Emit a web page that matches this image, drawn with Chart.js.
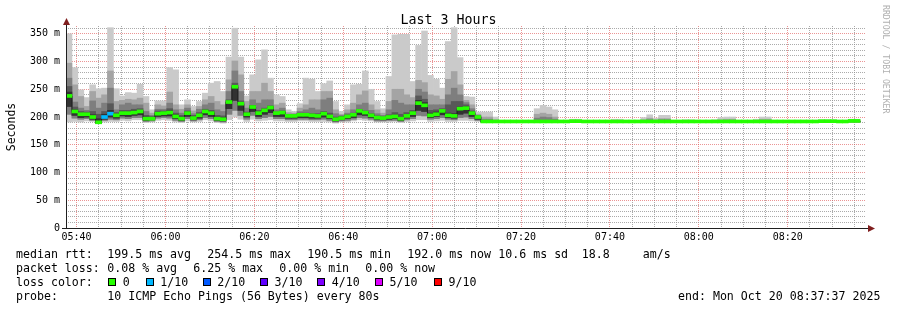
<!DOCTYPE html>
<html><head><meta charset="utf-8">
<script src="https://cdn.jsdelivr.net/npm/chart.js@4/dist/chart.umd.min.js"></script>
<style>
html,body{margin:0;padding:0;background:#fff;}
#wrap{position:relative;width:897px;height:310px;overflow:hidden;background:#fff;}
#c{position:absolute;left:0;top:0;}
.t{position:absolute;font-family:'DejaVu Sans Mono',monospace;white-space:pre;color:#000;}
#title{left:0;width:897px;text-align:center;top:12px;font-size:13.3px;line-height:16px;}
#rrd{left:881px;top:5px;font-size:8.2px;line-height:10px;color:#b0b0b0;writing-mode:vertical-rl;}
.lg{font-size:11.6px;line-height:14px;}
.box{position:absolute;width:8px;height:8px;box-sizing:border-box;border:1px solid #000;}
</style></head>
<body>
<div id="wrap">
<canvas id="c" width="897" height="310"></canvas>
<div id="title" class="t">Last 3 Hours</div>
<div id="rrd" class="t">RRDTOOL / TOBI OETIKER</div>
<div id="legend"></div>
</div>
<script>
// ---- data ----
const startClock = '05:37:37';
const stepSeconds = 80;
const spanMinutes = 180;

const maxRtt = [
350,289,249,235,258,251,252,361,251,238,
244,243,259,237,213,229,229,289,285,222,
231,219,228,243,261,264,246,308,360,308,
238,276,303,321,270,240,237,213,210,224,
270,268,246,260,265,228,210,222,258,259,
283,250,228,215,273,348,349,349,264,329,
355,275,268,252,336,361,307,237,236,209,
209,209,200,193,193,193,193,193,193,215,
221,218,213,193,193,196,196,193,193,193,
193,193,196,196,193,193,193,199,204,198,
203,203,193,193,195,195,193,193,193,195,
199,200,200,193,193,193,196,200,200,193,
193,193,193,193,193,193,193,195,195,195,
193,193,196,196];
const p9 = [
297,258,237,219,246,234,240,283,228,230,
232,231,234,225,207,222,220,245,222,214,
222,211,219,231,237,228,222,267,301,276,
228,246,246,261,246,222,225,208,207,216,
222,231,231,246,246,213,205,213,225,240,
247,222,213,207,228,250,250,240,235,266,
262,240,238,232,268,282,258,230,222,205,
200,200,195,193,193,193,193,193,193,205,
207,205,200,193,193,193,193,193,193,193,
193,193,193,193,193,193,193,195,198,195,
197,197,193,193,193,193,193,193,193,193,
195,196,196,193,193,193,193,196,196,193,
193,193,193,193,193,193,193,193,193,193,
193,193,193,193];
const p8 = [
270,227,216,212,229,216,225,252,213,222,
225,222,222,210,203,214,214,225,213,207,
216,206,214,222,225,213,210,246,283,246,
216,231,225,231,231,213,216,205,205,210,
213,216,213,231,234,206,203,207,213,222,
225,212,206,203,213,230,225,222,222,250,
245,222,222,222,240,252,240,226,215,203,
196,196,193,192.5,192.5,192.5,192.5,192.5,192.5,198,
200,199,196,192.5,192.5,192.5,192.5,192.5,192.5,192.5,
192.5,192.5,192.5,192.5,192.5,192.5,192.5,192.5,195,192.5,
195,195,192.5,192.5,192.5,192.5,192.5,192.5,192.5,192.5,
192.5,192.5,192.5,192.5,192.5,192.5,192.5,192.5,192.5,192.5,
192.5,192.5,192.5,192.5,192.5,192.5,192.5,192.5,192.5,192.5,
192.5,192.5,192.5,192.5];
const p7 = [
255,218,210,209,210,205,210,224,208,212,
212,214,215,203,201,211,211,215,207,203,
211,203,208,214,212,203,202,231,261,229,
209,221,212,216,220,209,211,204,204,207,
207,206,206,210,207,200,201,204,207,214,
211,206,202,200,204,208,205,208,212,238,
232,212,213,215,222,228,228,222,211,202,
192.5,192.5,192.5,192.5,192.5,192.5,192.5,192.5,192.5,192.5,
192.5,192.5,192.5,192.5,192.5,192.5,192.5,192.5,192.5,192.5,
192.5,192.5,192.5,192.5,192.5,192.5,192.5,192.5,192.5,192.5,
192.5,192.5,192.5,192.5,192.5,192.5,192.5,192.5,192.5,192.5,
192.5,192.5,192.5,192.5,192.5,192.5,192.5,192.5,192.5,192.5,
192.5,192.5,192.5,192.5,192.5,192.5,192.5,192.5,192.5,192.5,
192.5,192.5,192.5,192.5];
const p6 = [
245,213,207,207,204,197,205,212,205,209,
209,211,212,200,199,208,209,211,204,200,
209,200,205,212,209,200,199,229,257,226,
207,220,209,214,219,208,209,203,203,206,
206,205,204,208,203,198,200,203,206,212,
209,204,200,199,202,203,199,204,209,230,
226,207,209,213,207,206,218,219,209,201,
192.5,192.5,192.5,192.5,192.5,192.5,192.5,192.5,192.5,192.5,
192.5,192.5,192.5,192.5,192.5,192.5,192.5,192.5,192.5,192.5,
192.5,192.5,192.5,192.5,192.5,192.5,192.5,192.5,192.5,192.5,
192.5,192.5,192.5,192.5,192.5,192.5,192.5,192.5,192.5,192.5,
192.5,192.5,192.5,192.5,192.5,192.5,192.5,192.5,192.5,192.5,
192.5,192.5,192.5,192.5,192.5,192.5,192.5,192.5,192.5,192.5,
192.5,192.5,192.5,192.5];
const median = [
238,210,205,205,200,190.5,200,206,203,207,
207,208,210,197,197,206,207,208,201,197,
207,198,203,210,207,197,196,227,254.5,224,
205,218,207,212,217,207,208,202,202,204,
204,203,202,206,201,196,198,201,204,211,
208,203,199,198,200,201,197,202,207,225,
221,203,205,211,203,202,215,216,207,200,
192,192,192,192,192,192,192,192,192,192,
192,192,192,192,192,192.5,192.5,192,192,192,
192,192,192,192,192,192,192,192,192,192,
192,192,192,192,192,192,192,192,192,192,
192,192,192,192,192,192,192,192,192,192,
192,192,192,192,192,192,192,192.5,192.5,192.5,
192,192,193,193];
const p4 = [
219,203,199,200,196,189,196,200,198,202,
201,203,204,194,195,201,202,202,197,194,
201,195,198,204,201,194,193,215,230,212,
200,210,201,205,208,201,201,198,198,199,
199,198,198,200,197,193,195,197,199,204,
203,199,196,195,196,197,194,198,201,212,
210,199,201,204,199,198,205,207,201,196,
191.5,191.5,191.5,191.5,191.5,191.5,191.5,191.5,191.5,191.5,
191.5,191.5,191.5,191.5,191.5,191.5,191.5,191.5,191.5,191.5,
191.5,191.5,191.5,191.5,191.5,191.5,191.5,191.5,191.5,191.5,
191.5,191.5,191.5,191.5,191.5,191.5,191.5,191.5,191.5,191.5,
191.5,191.5,191.5,191.5,191.5,191.5,191.5,191.5,191.5,191.5,
191.5,191.5,191.5,191.5,191.5,191.5,191.5,191.5,191.5,191.5,
191.5,191.5,191.5,191.5];
const p3 = [
205,198,196,197,194,189,194,196,195,198,
197,199,199,192,193,198,199,198,194,192,
197,193,195,199,197,192,191,205,212,203,
196,203,197,199,201,197,197,195,195,196,
196,195,195,196,194,191,193,194,196,199,
198,196,193,193,194,194,192,195,197,203,
202,196,197,199,196,195,199,200,197,194,
191,191,191,191,191,191,191,191,191,191,
191,191,191,191,191,191,191,191,191,191,
191,191,191,191,191,191,191,191,191,191,
191,191,191,191,191,191,191,191,191,191,
191,191,191,191,191,191,191,191,191,191,
191,191,191,191,191,191,191,191,191,191,
191,191,191,191];
const minRtt = [
191,192,191,193,192,188,191,192,192,194,
193,195,195,190,191,194,195,194,191,190,
193,191,192,195,193,190,189,195,200,196,
192,196,193,194,195,193,193,192,192,193,
193,192,192,192,191,189,191,191,193,195,
194,193,191,191,191,192,190,192,193,195,
195,192,193,194,192,192,194,194,193,192,
190.5,190.5,190.5,190.5,190.5,190.5,190.5,190.5,190.5,190.5,
190.5,190.5,190.5,190.5,190.5,190.5,190.5,190.5,190.5,190.5,
190.5,190.5,190.5,190.5,190.5,190.5,190.5,190.5,190.5,190.5,
190.5,190.5,190.5,190.5,190.5,190.5,190.5,190.5,190.5,190.5,
190.5,190.5,190.5,190.5,190.5,190.5,190.5,190.5,190.5,190.5,
190.5,190.5,190.5,190.5,190.5,190.5,190.5,190.5,190.5,190.5,
190.5,190.5,190.5,190.5];
// steps with packet loss: [step index, loss level index]
const lossEvents = [[6,1],[7,1]];
const lossLabels = ['0','1/10','2/10','3/10','4/10','5/10','9/10'];
const lossColors = ['#26ff00','#00b8ff','#0059ff','#5e00ff','#7e00ff','#dd00ff','#ff0000'];
const smokeColors = ['#cacaca','#a4a4a4','#7e7e7e','#585858','#323232'];
const yTickValues = [0,50,100,150,200,250,300,350];
const yTickLabels = ['0','50 m','100 m','150 m','200 m','250 m','300 m','350 m'];
const xTickLabels = ['05:40','06:00','06:20','06:40','07:00','07:20','07:40','08:00','08:20'];

// ---- helpers ----
const toMin = s => { const p = s.split(':').map(Number); return p[0]*60 + p[1] + (p[2]||0)/60; };
const T0 = toMin(startClock);
const stepMin = stepSeconds/60;
const xs = median.map((_, k) => (k + 0.5) * stepMin);
const lossAt = median.map(() => 0);
lossEvents.forEach(([k, l]) => { lossAt[k] = l; });
const majorX = xTickLabels.map(l => toMin(l) - T0);
const minorX = [];
for (let v = Math.ceil(T0/5)*5 - T0; v < spanMinutes; v += 5) minorX.push(v);
const isMajorX = v => majorX.some(m => Math.abs(m - v) < 0.01);
const labelX = v => { const i = majorX.findIndex(m => Math.abs(m - v) < 0.01); return i >= 0 ? xTickLabels[i] : ''; };

const GRID = 'rgba(143,143,143,0.75)';
const MGRID = 'rgba(222,79,79,0.6)';
const FONT = "'DejaVu Sans Mono', monospace";

const range = (lo, hi) => xs.map((x, i) => ({x, y: [lo[i], hi[i]]}));
const layers = [[minRtt, maxRtt],[p3, p9],[p3, p8],[p4, p7],[p4, p6]];
const datasets = layers.map((lh, i) => ({
  type: 'bar', data: range(lh[0], lh[1]), backgroundColor: smokeColors[i],
  borderWidth: 0, grouped: false, barPercentage: 1, categoryPercentage: 1, order: 20 - i
}));
datasets.push({
  type: 'line', data: xs.map((x, i) => ({x, y: median[i]})), borderColor: '#202020',
  borderWidth: 1, pointRadius: 0, stepped: 'middle', order: 5, fill: false
});
datasets.push({
  type: 'bar', data: xs.map((x, i) => ({x, y: [median[i] - 2.7, median[i] + 2.7]})),
  backgroundColor: xs.map((_, i) => lossColors[lossAt[i]]),
  borderWidth: 0, grouped: false, barPercentage: 1, categoryPercentage: 1, order: 1
});

const axesPlugin = {
  id: 'rrdAxes',
  afterDraw(chart) {
    const {ctx, chartArea: a} = chart;
    ctx.save();
    ctx.strokeStyle = 'rgb(31,31,31)'; ctx.lineWidth = 1;
    ctx.beginPath();
    ctx.moveTo(a.left - 4, Math.round(a.bottom) + 0.5); ctx.lineTo(a.right + 3, Math.round(a.bottom) + 0.5);
    ctx.moveTo(Math.round(a.left) + 0.5, a.bottom); ctx.lineTo(Math.round(a.left) + 0.5, a.top - 2);
    ctx.stroke();
    ctx.fillStyle = 'rgb(128,31,31)';
    const by = Math.round(a.bottom) + 0.5, lx = Math.round(a.left) + 0.5;
    ctx.beginPath(); ctx.moveTo(a.right + 2, by - 3.5); ctx.lineTo(a.right + 9, by); ctx.lineTo(a.right + 2, by + 3.5); ctx.closePath(); ctx.fill();
    ctx.beginPath(); ctx.moveTo(lx - 3.5, a.top - 1); ctx.lineTo(lx, a.top - 8); ctx.lineTo(lx + 3.5, a.top - 1); ctx.closePath(); ctx.fill();
    ctx.restore();
  }
};

new Chart(document.getElementById('c'), {
  type: 'bar',
  data: { datasets },
  options: {
    responsive: false, animation: false, devicePixelRatio: 1,
    layout: { padding: { left: 0, top: 26, right: 31, bottom: 62 } },
    plugins: { legend: { display: false }, tooltip: { enabled: false }, title: { display: false } },
    scales: {
      x: {
        type: 'linear', min: 0, max: spanMinutes, offset: false, z: 1,
        afterBuildTicks: s => { s.ticks = minorX.map(v => ({value: v})); },
        afterFit: s => { s.height = 20; },
        grid: { offset: false, drawTicks: false, lineWidth: 1,
          color: c => (c.tick && isMajorX(c.tick.value)) ? MGRID : GRID },
        border: { display: false, dash: [1, 1] },
        ticks: { autoSkip: false, maxRotation: 0, minRotation: 0, padding: 3, color: '#000',
          font: { family: FONT, size: 10 }, callback: v => labelX(v) }
      },
      y: {
        type: 'linear', min: 0, max: 364, z: 1,
        afterBuildTicks: s => { const t = []; for (let v = 0; v <= 360; v += 10) t.push({value: v}); s.ticks = t; },
        afterFit: s => { s.width = 66; },
        grid: { drawTicks: false, lineWidth: 1,
          color: c => (c.tick && c.tick.value === 0) ? 'rgba(0,0,0,0)' : ((c.tick && c.tick.value % 50 === 0) ? MGRID : GRID) },
        border: { display: false, dash: [1, 1] },
        ticks: { autoSkip: false, padding: 6, color: '#000', font: { family: FONT, size: 10 },
          callback: v => { const i = yTickValues.indexOf(v); return i >= 0 ? yTickLabels[i] : ''; } },
        title: { display: true, text: 'Seconds', color: '#000', font: { family: FONT, size: 11.5 }, padding: { top: 5, bottom: 0 } }
      }
    }
  },
  plugins: [axesPlugin]
});

// ---- legend (HTML text) ----
const legendRows = [
  { y: 254.3, parts: [[16,'median rtt:'],[107.3,'199.5 ms avg'],[207.3,'254.5 ms max'],[307.3,'190.5 ms min'],[407.3,'192.0 ms now'],[498.3,'10.6 ms sd'],[581.7,'18.8'],[642.7,'am/s']] },
  { y: 268.3, parts: [[16,'packet loss:'],[107.3,'0.08 % avg'],[193.3,'6.25 % max'],[279.3,'0.00 % min'],[365.3,'0.00 % now']] },
  { y: 282.3, parts: [[16,'loss color:']] },
  { y: 296.3, parts: [[16,'probe:'],[107.3,'10 ICMP Echo Pings (56 Bytes) every 80s'],[678,'end: Mon Oct 20 08:37:37 2025']] }
];
const lossBoxX = [108.3,145.7,202.7,260,317.3,375,434];
const lg = document.getElementById('legend');
legendRows.forEach(r => r.parts.forEach(([x, s]) => {
  const e = document.createElement('div'); e.className = 't lg'; e.textContent = s;
  e.style.left = x + 'px'; e.style.top = (r.y - 7) + 'px'; lg.appendChild(e);
}));
lossLabels.forEach((l, i) => {
  const b = document.createElement('div'); b.className = 'box';
  b.style.left = Math.round(lossBoxX[i]) + 'px'; b.style.top = '278px'; b.style.background = lossColors[i];
  lg.appendChild(b);
  const e = document.createElement('div'); e.className = 't lg'; e.textContent = l;
  e.style.left = (lossBoxX[i] + 14.5) + 'px'; e.style.top = (282.3 - 7) + 'px'; lg.appendChild(e);
});
</script>
</body></html>
